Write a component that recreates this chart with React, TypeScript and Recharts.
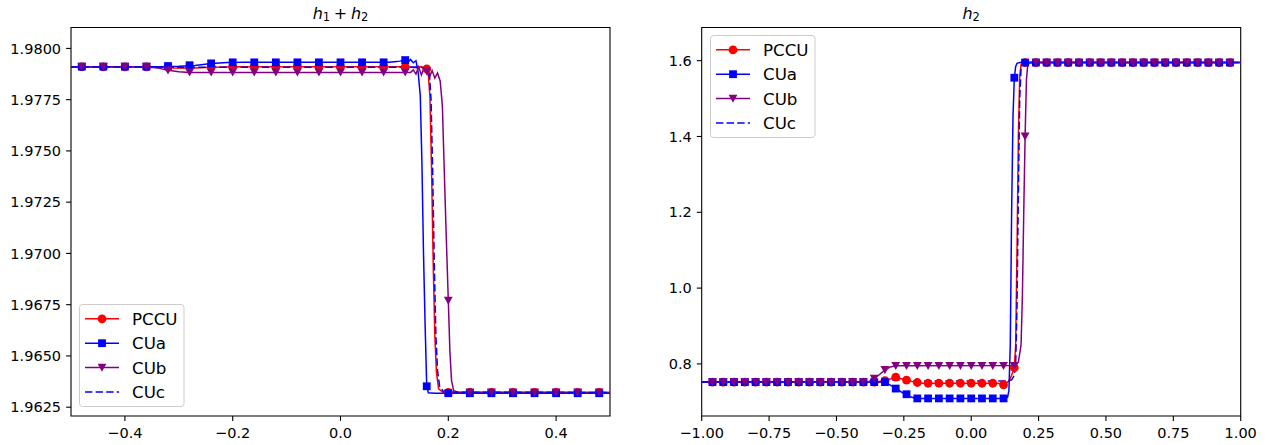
import { LineChart, Line, XAxis, YAxis, ReferenceArea } from 'recharts'

type Pair = [number, number]
type MarkerShape = 'circle' | 'square' | 'triangle' | 'none'

// ---- left panel: h1 + h2 ----
const leftXTicks = [-0.4, -0.2, 0, 0.2, 0.4]
const leftYTicks = [1.9625, 1.965, 1.9675, 1.97, 1.9725, 1.975, 1.9775, 1.98]

const leftMarkX = [
  -0.48, -0.44, -0.4, -0.36, -0.32, -0.28, -0.24, -0.2, -0.16, -0.12, -0.08, -0.04, 0,
  0.04, 0.08, 0.12, 0.16, 0.2, 0.24, 0.28, 0.32, 0.36, 0.4, 0.44, 0.48,
]
const pccuLeftMarks = [
  1.9791, 1.9791, 1.9791, 1.9791, 1.9791, 1.9791, 1.9791, 1.9791, 1.9791, 1.9791, 1.9791, 1.9791,
  1.9791, 1.9791, 1.9791, 1.9791, 1.979, 1.96322, 1.96322, 1.96322, 1.96322, 1.96322, 1.96322,
  1.96322, 1.96322,
]
const cuaLeftMarks = [
  1.97911, 1.97911, 1.97911, 1.97911, 1.97914, 1.97918, 1.97927, 1.97932, 1.97932, 1.97932,
  1.97932, 1.97932, 1.97932, 1.97932, 1.97932, 1.97943, 1.96352, 1.96318, 1.96318, 1.96318,
  1.96318, 1.96318, 1.96318, 1.96318, 1.96318,
]
const cubLeftMarks = [
  1.97911, 1.97911, 1.97911, 1.97911, 1.97893, 1.97883, 1.97883, 1.97883, 1.97883, 1.97883,
  1.97883, 1.97883, 1.97883, 1.97883, 1.97883, 1.97883, 1.97888, 1.9677, 1.96322, 1.96322,
  1.96322, 1.96322, 1.96322, 1.96322, 1.96322,
]

const pccuLeftLine: Pair[] = [
  [-0.5, 1.9791], [-0.34, 1.9791], [-0.31, 1.97905], [-0.28, 1.97903], [-0.25, 1.97907],
  [-0.2, 1.9791], [0.12, 1.9791], [0.14, 1.97906], [0.15, 1.97912], [0.156, 1.97896],
  [0.16, 1.979], [0.163, 1.9787], [0.166, 1.9776], [0.169, 1.974], [0.172, 1.9695],
  [0.175, 1.966], [0.178, 1.9642], [0.182, 1.9634], [0.19, 1.96323], [0.5, 1.96322],
]
const cuaLeftLine: Pair[] = [
  [-0.5, 1.97911], [-0.33, 1.97911], [-0.3, 1.97913], [-0.27, 1.97917], [-0.24, 1.97926],
  [-0.21, 1.97931], [-0.18, 1.97932], [0.09, 1.97932], [0.1, 1.97935], [0.11, 1.97938],
  [0.12, 1.97943], [0.125, 1.97932], [0.13, 1.97946], [0.135, 1.9793], [0.14, 1.9794],
  [0.144, 1.97885], [0.148, 1.9777], [0.151, 1.9745], [0.154, 1.97], [0.157, 1.9665],
  [0.16, 1.96352], [0.163, 1.9632], [0.175, 1.96318], [0.5, 1.96318],
]
const cubLeftLine: Pair[] = [
  [-0.5, 1.97911], [-0.36, 1.97911], [-0.34, 1.97905], [-0.32, 1.97893], [-0.3, 1.97886],
  [-0.28, 1.97883], [0.13, 1.97883], [0.135, 1.97895], [0.14, 1.97875], [0.145, 1.9791],
  [0.15, 1.9787], [0.155, 1.97905], [0.16, 1.97885], [0.165, 1.9786], [0.17, 1.97892],
  [0.175, 1.97855], [0.18, 1.9788], [0.185, 1.9784], [0.189, 1.9772], [0.192, 1.9745],
  [0.196, 1.971], [0.2, 1.9677], [0.203, 1.9652], [0.206, 1.9638], [0.21, 1.9633],
  [0.22, 1.96322], [0.5, 1.96322],
]
const cucLeftLine: Pair[] = [
  [-0.5, 1.97909], [0.12, 1.97908], [0.145, 1.9791], [0.158, 1.97905], [0.165, 1.9788],
  [0.168, 1.9775], [0.171, 1.974], [0.174, 1.9695], [0.177, 1.966], [0.18, 1.9643],
  [0.184, 1.9635], [0.192, 1.96323], [0.5, 1.96322],
]

// ---- right panel: h2 ----
const rightXTicks = [-1, -0.75, -0.5, -0.25, 0, 0.25, 0.5, 0.75, 1]
const rightYTicks = [0.8, 1.0, 1.2, 1.4, 1.6]

const rightMarkX = [
  -0.96, -0.92, -0.88, -0.84, -0.8, -0.76, -0.72, -0.68, -0.64, -0.6, -0.56, -0.52, -0.48, -0.44,
  -0.4, -0.36, -0.32, -0.28, -0.24, -0.2, -0.16, -0.12, -0.08, -0.04, 0, 0.04, 0.08, 0.12, 0.16,
  0.2, 0.24, 0.28, 0.32, 0.36, 0.4, 0.44, 0.48, 0.52, 0.56, 0.6, 0.64, 0.68, 0.72, 0.76, 0.8,
  0.84, 0.88, 0.92, 0.96,
]
const pccuRightMarks = [
  0.752, 0.752, 0.752, 0.752, 0.752, 0.752, 0.752, 0.752, 0.752, 0.752, 0.752, 0.752, 0.752,
  0.752, 0.752, 0.752, 0.756, 0.765, 0.757, 0.751, 0.749, 0.749, 0.749, 0.749, 0.749, 0.749,
  0.749, 0.745, 0.79, 1.595, 1.595, 1.595, 1.595, 1.595, 1.595, 1.595, 1.595, 1.595, 1.595,
  1.595, 1.595, 1.595, 1.595, 1.595, 1.595, 1.595, 1.595, 1.595, 1.595,
]
const cuaRightMarks = [
  0.752, 0.752, 0.752, 0.752, 0.752, 0.752, 0.752, 0.752, 0.752, 0.752, 0.752, 0.752, 0.752,
  0.752, 0.752, 0.752, 0.752, 0.735, 0.72, 0.709, 0.709, 0.709, 0.709, 0.709, 0.709, 0.709,
  0.709, 0.709, 1.555, 1.595, 1.595, 1.595, 1.595, 1.595, 1.595, 1.595, 1.595, 1.595, 1.595,
  1.595, 1.595, 1.595, 1.595, 1.595, 1.595, 1.595, 1.595, 1.595, 1.595,
]
const cubRightMarks = [
  0.752, 0.752, 0.752, 0.752, 0.752, 0.752, 0.752, 0.752, 0.752, 0.752, 0.752, 0.752, 0.752,
  0.752, 0.752, 0.761, 0.784, 0.795, 0.795, 0.795, 0.795, 0.795, 0.795, 0.795, 0.795, 0.795,
  0.795, 0.795, 0.795, 1.4, 1.595, 1.595, 1.595, 1.595, 1.595, 1.595, 1.595, 1.595, 1.595,
  1.595, 1.595, 1.595, 1.595, 1.595, 1.595, 1.595, 1.595, 1.595, 1.595,
]

const pccuRightLine: Pair[] = [
  [-1, 0.752], [-0.36, 0.752], [-0.33, 0.754], [-0.3, 0.76], [-0.28, 0.765], [-0.26, 0.761],
  [-0.24, 0.757], [-0.21, 0.752], [-0.18, 0.749], [0.1, 0.749], [0.12, 0.745], [0.14, 0.755],
  [0.15, 0.77], [0.16, 0.79], [0.165, 0.85], [0.17, 1.1], [0.175, 1.4], [0.18, 1.56],
  [0.185, 1.59], [0.19, 1.595], [1, 1.595],
]
const cuaRightLine: Pair[] = [
  [-1, 0.752], [-0.33, 0.752], [-0.31, 0.748], [-0.29, 0.74], [-0.27, 0.731], [-0.25, 0.722],
  [-0.23, 0.714], [-0.21, 0.71], [-0.19, 0.709], [0.125, 0.709], [0.135, 0.712], [0.14, 0.73],
  [0.145, 0.85], [0.15, 1.2], [0.155, 1.45], [0.16, 1.555], [0.165, 1.585], [0.17, 1.593],
  [0.18, 1.595], [1, 1.595],
]
const cubRightLine: Pair[] = [
  [-1, 0.752], [-0.38, 0.753], [-0.36, 0.761], [-0.34, 0.772], [-0.32, 0.784], [-0.3, 0.792],
  [-0.28, 0.795], [0.16, 0.796], [0.175, 0.805], [0.185, 0.85], [0.19, 0.98], [0.195, 1.2],
  [0.2, 1.4], [0.205, 1.55], [0.21, 1.59], [0.22, 1.595], [1, 1.595],
]
const cucRightLine: Pair[] = [
  [-1, 0.752], [-0.34, 0.752], [-0.31, 0.756], [-0.28, 0.758], [-0.24, 0.756], [-0.2, 0.755],
  [0.13, 0.755], [0.15, 0.758], [0.16, 0.77], [0.165, 0.8], [0.17, 0.95], [0.175, 1.25],
  [0.18, 1.5], [0.185, 1.58], [0.19, 1.595], [1, 1.595],
]

const FONT = 'DejaVu Sans, Verdana, sans-serif'
const LINE_W = 1.5
const DASH = '7.4 3.2'

type Series = {
  name: string
  color: string
  marker: MarkerShape
  dashed?: boolean
  line: Pair[]
  markX?: number[]
  markY?: number[]
}

const leftSeries: Series[] = [
  { name: 'PCCU', color: '#ff0000', marker: 'circle', line: pccuLeftLine, markX: leftMarkX, markY: pccuLeftMarks },
  { name: 'CUa', color: '#0000ff', marker: 'square', line: cuaLeftLine, markX: leftMarkX, markY: cuaLeftMarks },
  { name: 'CUb', color: '#800080', marker: 'triangle', line: cubLeftLine, markX: leftMarkX, markY: cubLeftMarks },
  { name: 'CUc', color: '#0000ff', marker: 'none', dashed: true, line: cucLeftLine },
]
const rightSeries: Series[] = [
  { name: 'PCCU', color: '#ff0000', marker: 'circle', line: pccuRightLine, markX: rightMarkX, markY: pccuRightMarks },
  { name: 'CUa', color: '#0000ff', marker: 'square', line: cuaRightLine, markX: rightMarkX, markY: cuaRightMarks },
  { name: 'CUb', color: '#800080', marker: 'triangle', line: cubRightLine, markX: rightMarkX, markY: cubRightMarks },
  { name: 'CUc', color: '#0000ff', marker: 'none', dashed: true, line: cucRightLine },
]

const toPoints = (pairs: Pair[]) => pairs.map(([x, y]) => ({ x, y }))
const zipMarks = (xs: number[], ys: number[]) => xs.map((x, i) => ({ x, y: ys[i] }))

const fmt = (d: number) => (v: number) => {
  const s = Math.abs(v) < 1e-9 ? (0).toFixed(d) : v.toFixed(d)
  return s.replace('-', '\u2212')
}

function markerShape(shape: MarkerShape, color: string, cx: number, cy: number, key?: string) {
  if (shape === 'circle') return <circle key={key} cx={cx} cy={cy} r={4.4} fill={color} />
  if (shape === 'square')
    return <rect key={key} x={cx - 3.9} y={cy - 3.9} width={7.8} height={7.8} fill={color} />
  if (shape === 'triangle')
    return (
      <polygon
        key={key}
        points={`${cx - 4.4},${cy - 3.9} ${cx + 4.4},${cy - 3.9} ${cx},${cy + 4.2}`}
        fill={color}
      />
    )
  return <g key={key} />
}

type PanelProps = {
  left: number
  width: number
  plotLeft: number
  plotRight: number
  xDomain: [number, number]
  yDomain: [number, number]
  xTicks: number[]
  yTicks: number[]
  xDigits: number
  yDigits: number
  series: Series[]
  title: React.ReactNode
  legendX: number
  legendY: number
}

const HEIGHT = 445
const PLOT_TOP = 27.5
const PLOT_BOTTOM = 416

function Panel(p: PanelProps) {
  const yAxisW = p.plotLeft - 6
  const tickStyle = { fill: '#000', fontSize: 14.5, fontFamily: FONT }
  return (
    <div style={{ position: 'absolute', left: p.left, top: 0, width: p.width, height: HEIGHT }}>
      <LineChart
        width={p.width}
        height={HEIGHT}
        margin={{ top: PLOT_TOP, left: 6, right: p.width - p.plotRight, bottom: 0 }}
      >
        <XAxis
          type="number"
          dataKey="x"
          domain={p.xDomain}
          ticks={p.xTicks}
          allowDataOverflow
          tickFormatter={fmt(p.xDigits)}
          tick={tickStyle}
          tickLine={{ stroke: '#000', strokeWidth: 1.1 }}
          tickSize={4.9}
          tickMargin={7}
          axisLine={false}
          height={HEIGHT - PLOT_BOTTOM}
        />
        <YAxis
          type="number"
          domain={p.yDomain}
          ticks={p.yTicks}
          allowDataOverflow
          tickFormatter={fmt(p.yDigits)}
          tick={tickStyle}
          tickLine={{ stroke: '#000', strokeWidth: 1.1 }}
          tickSize={4.9}
          tickMargin={5}
          axisLine={false}
          width={yAxisW}
        />
        <ReferenceArea
          x1={p.xDomain[0]}
          x2={p.xDomain[1]}
          y1={p.yDomain[0]}
          y2={p.yDomain[1]}
          fill="none"
          stroke="#000"
          strokeWidth={1.1}
        />
        {p.series.flatMap((s) => {
          const out = [
            <Line
              key={`${s.name}-line`}
              data={toPoints(s.line)}
              dataKey="y"
              type="linear"
              stroke={s.color}
              strokeWidth={LINE_W}
              strokeDasharray={s.dashed ? DASH : undefined}
              dot={false}
              activeDot={false}
              isAnimationActive={false}
              legendType="none"
            />,
          ]
          if (s.markX && s.markY) {
            out.push(
              <Line
                key={`${s.name}-marks`}
                data={zipMarks(s.markX, s.markY)}
                dataKey="y"
                stroke="none"
                strokeWidth={0}
                dot={(d: any) => markerShape(s.marker, s.color, d.cx, d.cy, `${s.name}-m-${d.index}`)}
                activeDot={false}
                isAnimationActive={false}
                legendType="none"
              />
            )
          }
          return out
        })}
      </LineChart>
      <svg
        width={p.width}
        height={HEIGHT}
        style={{ position: 'absolute', left: 0, top: 0, pointerEvents: 'none' }}
      >
        <text
          x={(p.plotLeft + p.plotRight) / 2}
          y={18.5}
          textAnchor="middle"
          fontFamily={FONT}
          fontSize={16}
          fill="#000"
        >
          {p.title}
        </text>
        <g transform={`translate(${p.legendX},${p.legendY})`}>
          <rect
            x={0.5}
            y={0.5}
            width={104.5}
            height={102}
            rx={3}
            fill="#fff"
            fillOpacity={0.8}
            stroke="#cccccc"
            strokeWidth={1}
          />
          {p.series.map((s, i) => {
            const cy = 14.8 + i * 24.4
            return (
              <g key={s.name}>
                <line
                  x1={6}
                  x2={40}
                  y1={cy}
                  y2={cy}
                  stroke={s.color}
                  strokeWidth={LINE_W}
                  strokeDasharray={s.dashed ? DASH : undefined}
                />
                {markerShape(s.marker, s.color, 23, cy)}
                <text x={53} y={cy + 6} fontFamily={FONT} fontSize={16.7} fill="#000">
                  {s.name}
                </text>
              </g>
            )
          })}
        </g>
      </svg>
    </div>
  )
}

const subStyle = { fontSize: 11.5 }

export default function App() {
  return (
    <div
      style={{
        position: 'absolute',
        left: 0,
        top: 0,
        width: 1266,
        height: HEIGHT,
        background: '#fff',
        fontFamily: FONT,
      }}
    >
      <Panel
        left={0}
        width={630}
        plotLeft={71}
        plotRight={610}
        xDomain={[-0.5, 0.5]}
        yDomain={[1.96207, 1.98102]}
        xTicks={leftXTicks}
        yTicks={leftYTicks}
        xDigits={1}
        yDigits={4}
        series={leftSeries}
        legendX={79}
        legendY={304}
        title={
          <>
            <tspan fontStyle="italic">h</tspan>
            <tspan {...subStyle} dy={2.5}>1</tspan>
            <tspan dx={3.7} dy={-2.5}>+</tspan>
            <tspan dx={3.7} fontStyle="italic">h</tspan>
            <tspan {...subStyle} dy={2.5}>2</tspan>
          </>
        }
      />
      <Panel
        left={640}
        width={626}
        plotLeft={61.7}
        plotRight={600.7}
        xDomain={[-1, 1]}
        yDomain={[0.6626, 1.6875]}
        xTicks={rightXTicks}
        yTicks={rightYTicks}
        xDigits={2}
        yDigits={1}
        series={rightSeries}
        legendX={70}
        legendY={35}
        title={
          <>
            <tspan fontStyle="italic">h</tspan>
            <tspan {...subStyle} dy={2.5}>2</tspan>
          </>
        }
      />
    </div>
  )
}
